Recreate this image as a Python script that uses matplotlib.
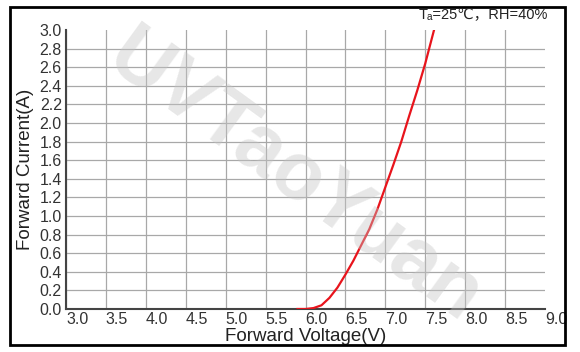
import matplotlib
matplotlib.use("Agg")
import matplotlib.pyplot as plt
from matplotlib.patches import Rectangle

# forward voltage (V) vs forward current (A)
voltage = [5.9, 6.0, 6.1, 6.2, 6.3, 6.4, 6.5, 6.6, 6.7, 6.8, 6.9, 7.0, 7.1, 7.2, 7.3, 7.4, 7.5, 7.61]
current = [0.0, 0.0, 0.01, 0.04, 0.12, 0.23, 0.37, 0.52, 0.69, 0.86, 1.07, 1.31, 1.55, 1.80, 2.08, 2.35, 2.64, 3.0]

x_ticks = [3.0, 3.5, 4.0, 4.5, 5.0, 5.5, 6.0, 6.5, 7.0, 7.5, 8.0, 8.5, 9.0]
y_ticks = [i * 0.2 for i in range(16)]

plt.rcParams['font.family'] = ['Liberation Sans', 'DejaVu Sans', 'Noto Sans CJK SC']

fig = plt.figure(figsize=(5.8, 3.52), dpi=100)
ax = fig.add_axes([66 / 580, 1 - 309 / 352, 479 / 580, 279 / 352])

ax.plot(voltage, current, color='#e8141c', lw=1.6, zorder=3)

ax.set_xlim(3.0, 9.0)
ax.set_ylim(0.0, 3.0)
ax.set_xticks(x_ticks)
ax.set_yticks(y_ticks)
ax.set_xticklabels(['%.1f' % v for v in x_ticks], ha='left')
ax.set_yticklabels(['%.1f' % v for v in y_ticks])
ax.tick_params(length=0, labelsize=11.5, labelcolor='#333333')
ax.tick_params(axis='x', pad=2)
ax.tick_params(axis='y', pad=3)

ax.grid(True, color='#a8a8a8', lw=0.9)
ax.set_axisbelow(True)
# no grid at the top and right ends
ax.yaxis.get_gridlines()[-1].set_visible(False)
ax.xaxis.get_gridlines()[-1].set_visible(False)

for s in ['top', 'right']:
    ax.spines[s].set_visible(False)
for s in ['left', 'bottom']:
    ax.spines[s].set_color('#444444')
    ax.spines[s].set_linewidth(1.5)

ax.set_xlabel('Forward Voltage(V)', fontsize=13.5, color='#222222', labelpad=1)
ax.set_ylabel('Forward Current(A)', fontsize=13.5, color='#222222', labelpad=4)

fig.text(548 / 580, 1 - 15 / 352, 'T\u2090=25\u2103\uff0cRH=40%', ha='right', va='center',
         fontsize=10.5, color='#222222')

# outer frame
fig.patches.append(Rectangle((10 / 580, 1 - 345 / 352), 555 / 580, 338 / 352,
                             transform=fig.transFigure, fill=False, ec='black', lw=2))

# watermark
fig.text(294 / 580, 1 - 178 / 352, 'UVTaoYuan', ha='center', va='center', rotation=-36,
         fontsize=58, fontweight='bold', color='#c4c4c4', alpha=0.4, zorder=10)

fig.savefig('out.png', dpi=100)
